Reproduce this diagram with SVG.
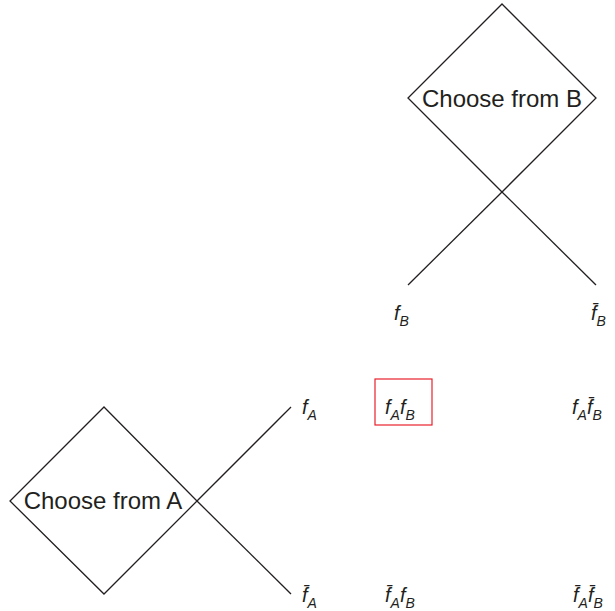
<svg xmlns="http://www.w3.org/2000/svg" width="615" height="611" viewBox="0 0 615 611">
<style>
.ln{fill:none;stroke:#231f20;stroke-width:1.3}
.lbl{font-family:"Liberation Sans",Arial,sans-serif;font-size:24px;fill:#231f20}
.m{font-family:"Liberation Sans",Arial,sans-serif;font-style:italic;font-size:20px;fill:#231f20}
.s{font-size:14px}
.box{fill:none;stroke:#e8202a;stroke-width:1.2}
</style>
<rect width="615" height="611" fill="#fff"/>
<g id="connectors">
<line class="ln" x1="502" y1="192" x2="408" y2="285"/>
<line class="ln" x1="502" y1="192" x2="596" y2="285"/>
<line class="ln" x1="197" y1="501" x2="291" y2="407"/>
<line class="ln" x1="197" y1="501" x2="291" y2="594"/>
</g>
<g id="nodeB">
<polygon class="ln" points="502,4 596,98 502,192 408,98"/>
<text class="lbl" x="502" y="107" text-anchor="middle">Choose from B</text>
</g>
<g id="nodeA">
<polygon class="ln" points="104,407 197,501 104,594 10,501"/>
<text class="lbl" x="103" y="509" text-anchor="middle">Choose from A</text>
</g>
<g id="fB"><text class="m" x="394" y="320">f<tspan class="s" dy="6">B</tspan></text></g>
<g id="fBbar"><text class="m" x="591" y="320">f̄<tspan class="s" dy="6">B</tspan></text></g>
<g id="fA"><text class="m" x="302" y="414">f<tspan class="s" dy="6">A</tspan></text></g>
<g id="fAfB">
<rect class="box" x="375" y="379" width="57" height="46"/>
<text class="m" x="385" y="414">f<tspan class="s" dy="6">A</tspan><tspan dy="-6">f</tspan><tspan class="s" dy="6">B</tspan></text>
</g>
<g id="fAfBbar"><text class="m" x="572" y="414">f<tspan class="s" dy="6">A</tspan><tspan dy="-6">f̄</tspan><tspan class="s" dy="6">B</tspan></text></g>
<g id="fAbar"><text class="m" x="302" y="602">f̄<tspan class="s" dy="6">A</tspan></text></g>
<g id="fAbarfB"><text class="m" x="385" y="602">f̄<tspan class="s" dy="6">A</tspan><tspan dy="-6">f</tspan><tspan class="s" dy="6">B</tspan></text></g>
<g id="fAbarfBbar"><text class="m" x="573" y="602">f̄<tspan class="s" dy="6">A</tspan><tspan dy="-6">f̄</tspan><tspan class="s" dy="6">B</tspan></text></g>
</svg>
